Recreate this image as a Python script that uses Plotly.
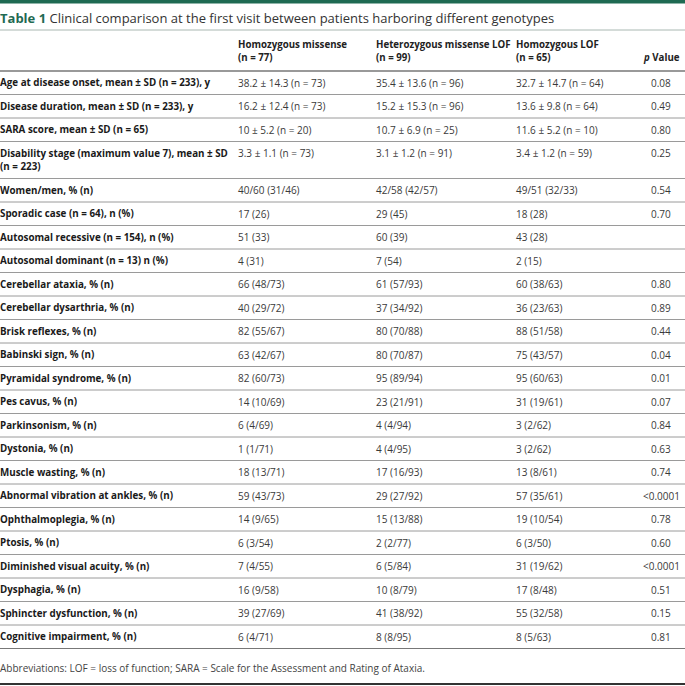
import plotly.graph_objects as go

# ---------------- data ----------------
title_label = "Table 1"
title_text = "Clinical comparison at the first visit between patients harboring different genotypes"

col_headers = [
    "Homozygous missense<br>(n = 77)",
    "Heterozygous missense LOF<br>(n = 99)",
    "Homozygous LOF<br>(n = 65)",
]
p_header = "<i>p</i> Value"

row_labels = [
    "Age at disease onset, mean ± SD (n = 233), y",
    "Disease duration, mean ± SD (n = 233), y",
    "SARA score, mean ± SD (n = 65)",
    "Disability stage (maximum value 7), mean ± SD<br>(n = 223)",
    "Women/men, % (n)",
    "Sporadic case (n = 64), n (%)",
    "Autosomal recessive (n = 154), n (%)",
    "Autosomal dominant (n = 13) n (%)",
    "Cerebellar ataxia, % (n)",
    "Cerebellar dysarthria, % (n)",
    "Brisk reflexes, % (n)",
    "Babinski sign, % (n)",
    "Pyramidal syndrome, % (n)",
    "Pes cavus, % (n)",
    "Parkinsonism, % (n)",
    "Dystonia, % (n)",
    "Muscle wasting, % (n)",
    "Abnormal vibration at ankles, % (n)",
    "Ophthalmoplegia, % (n)",
    "Ptosis, % (n)",
    "Diminished visual acuity, % (n)",
    "Dysphagia, % (n)",
    "Sphincter dysfunction, % (n)",
    "Cognitive impairment, % (n)",
]

hom_missense = [
    "38.2 ± 14.3 (n = 73)", "16.2 ± 12.4 (n = 73)", "10 ± 5.2 (n = 20)",
    "3.3 ± 1.1 (n = 73)", "40/60 (31/46)", "17 (26)", "51 (33)", "4 (31)",
    "66 (48/73)", "40 (29/72)", "82 (55/67)", "63 (42/67)", "82 (60/73)",
    "14 (10/69)", "6 (4/69)", "1 (1/71)", "18 (13/71)", "59 (43/73)",
    "14 (9/65)", "6 (3/54)", "7 (4/55)", "16 (9/58)", "39 (27/69)", "6 (4/71)",
]
het_missense_lof = [
    "35.4 ± 13.6 (n = 96)", "15.2 ± 15.3 (n = 96)", "10.7 ± 6.9 (n = 25)",
    "3.1 ± 1.2 (n = 91)", "42/58 (42/57)", "29 (45)", "60 (39)", "7 (54)",
    "61 (57/93)", "37 (34/92)", "80 (70/88)", "80 (70/87)", "95 (89/94)",
    "23 (21/91)", "4 (4/94)", "4 (4/95)", "17 (16/93)", "29 (27/92)",
    "15 (13/88)", "2 (2/77)", "6 (5/84)", "10 (8/79)", "41 (38/92)", "8 (8/95)",
]
hom_lof = [
    "32.7 ± 14.7 (n = 64)", "13.6 ± 9.8 (n = 64)", "11.6 ± 5.2 (n = 10)",
    "3.4 ± 1.2 (n = 59)", "49/51 (32/33)", "18 (28)", "43 (28)", "2 (15)",
    "60 (38/63)", "36 (23/63)", "88 (51/58)", "75 (43/57)", "95 (60/63)",
    "31 (19/61)", "3 (2/62)", "3 (2/62)", "13 (8/61)", "57 (35/61)",
    "19 (10/54)", "6 (3/50)", "31 (19/62)", "17 (8/48)", "55 (32/58)", "8 (5/63)",
]
p_values = [
    "0.08", "0.49", "0.80", "0.25", "0.54", "0.70", "", "",
    "0.80", "0.89", "0.44", "0.04", "0.01", "0.07", "0.84", "0.63",
    "0.74", "<0.0001", "0.78", "0.60", "<0.0001", "0.51", "0.15", "0.81",
]
footnote = "Abbreviations: LOF = loss of function; SARA = Scale for the Assessment and Rating of Ataxia."

# ---------------- layout constants ----------------
W, H = 685, 686
FONT = "Open Sans"
GREEN = "#1f6a52"
col_x = [0, 238, 376, 516]
p_x = 661
row_h = 23.5
line_extra = 13.5
header_bottom = 71
XS = -2  # compensates the annotation inner padding

fig = go.Figure()
fig.add_trace(go.Scatter(x=[0, W], y=[0, H], mode="markers",
                         marker=dict(opacity=0), hoverinfo="skip", showlegend=False))

ann = []
shapes = []

# top bar
shapes.append(dict(type="rect", xref="x", yref="y", x0=0, x1=W, y0=0, y1=3.5,
                   fillcolor=GREEN, line_width=0))
# title
ann.append(dict(x=0, y=18, xref="x", yref="y", xanchor="left", yanchor="middle", xshift=XS,
                text=f"<b><span style='color:{GREEN}'>{title_label}</span></b> {title_text}",
                showarrow=False, font=dict(family=FONT, size=13, color="#333333")))
shapes.append(dict(type="line", xref="x", yref="y", x0=0, x1=W, y0=30, y1=30,
                   line=dict(color="#a9b8b2", width=1)))

# column headers
for cx, h in zip(col_x[1:], col_headers):
    ann.append(dict(x=cx, y=51, xref="x", yref="y", xanchor="left", yanchor="middle", xshift=XS,
                    text=f"<b>{h}</b>", showarrow=False, align="left",
                    font=dict(family=FONT, size=9.7, color="#222222")))
ann.append(dict(x=p_x, y=57.5, xref="x", yref="y", xanchor="center", yanchor="middle",
                text=f"<b>{p_header}</b>", showarrow=False,
                font=dict(family=FONT, size=9.7, color="#222222")))
shapes.append(dict(type="line", xref="x", yref="y", x0=0, x1=W, y0=header_bottom, y1=header_bottom,
                   line=dict(color="#777777", width=1.5)))

# body rows
y = header_bottom
for i, lab in enumerate(row_labels):
    nlines = lab.count("<br>") + 1
    h = row_h + (nlines - 1) * line_extra
    yc_first = y + row_h / 2
    yc_label = yc_first + (nlines - 1) * line_extra / 2
    ann.append(dict(x=col_x[0], y=yc_label, xref="x", yref="y", xanchor="left", yanchor="middle",
                    xshift=XS, text=f"<b>{lab}</b>", showarrow=False, align="left",
                    font=dict(family=FONT, size=9.8, color="#1a1a1a")))
    for cx, vals in zip(col_x[1:], [hom_missense, het_missense_lof, hom_lof]):
        ann.append(dict(x=cx, y=yc_first, xref="x", yref="y", xanchor="left", yanchor="middle",
                        xshift=XS, text=vals[i], showarrow=False,
                        font=dict(family=FONT, size=10, color="#3a3a3a")))
    if p_values[i]:
        ann.append(dict(x=p_x, y=yc_first, xref="x", yref="y", xanchor="center", yanchor="middle",
                        text=p_values[i].replace("<", "&lt;"), showarrow=False,
                        font=dict(family=FONT, size=10, color="#3a3a3a")))
    y += h
    last = i == len(row_labels) - 1
    shapes.append(dict(type="line", xref="x", yref="y", x0=0, x1=W, y0=y, y1=y,
                       line=dict(color="#777777" if last else "#9a9a9a", width=1)))

# footnote
ann.append(dict(x=0, y=y + 19, xref="x", yref="y", xanchor="left", yanchor="middle", xshift=XS,
                text=footnote, showarrow=False,
                font=dict(family=FONT, size=10, color="#444444")))
shapes.append(dict(type="line", xref="x", yref="y", x0=0, x1=W, y0=684, y1=684,
                   line=dict(color="#333333", width=2)))

fig.update_layout(
    width=W, height=H, margin=dict(l=0, r=0, t=0, b=0),
    paper_bgcolor="white", plot_bgcolor="white",
    xaxis=dict(range=[0, W], visible=False, fixedrange=True),
    yaxis=dict(range=[H, 0], visible=False, fixedrange=True),
    annotations=ann, shapes=shapes, showlegend=False,
)
fig.write_html(
    "out.html",
    config={"displayModeBar": False},
    post_script="document.body.style.margin='0';document.body.style.padding='0';"
                "document.body.style.overflow='hidden';",
)
